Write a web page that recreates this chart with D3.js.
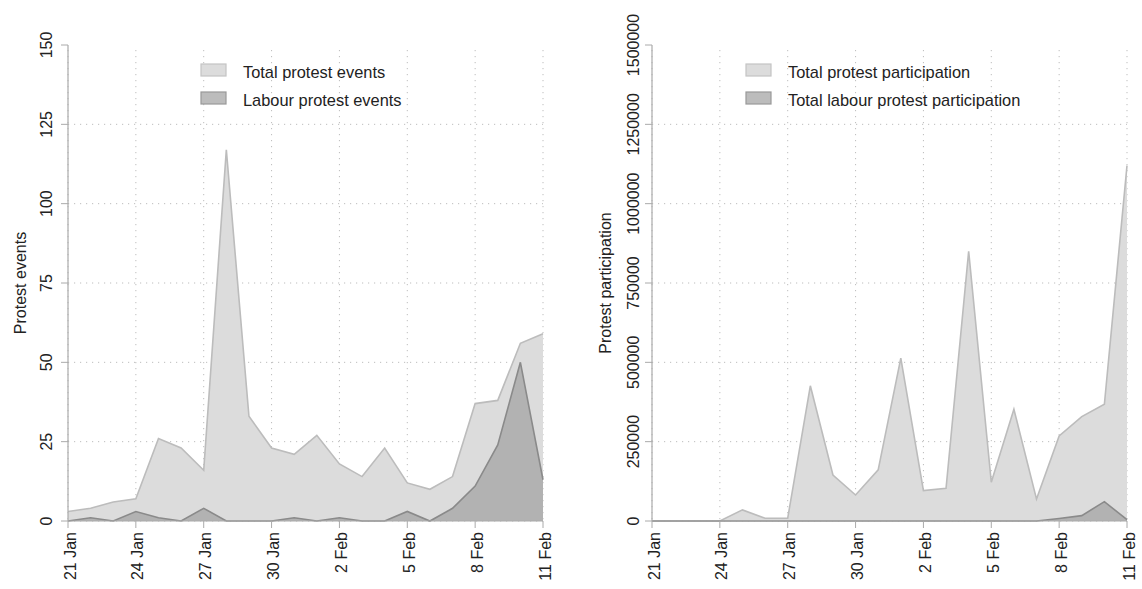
<!DOCTYPE html>
<html>
<head>
<meta charset="utf-8">
<script src="https://cdn.jsdelivr.net/npm/d3@7"></script>
<style>
  body { margin: 0; background: #fff; }
  svg text { font-family: "Liberation Sans", Arial, Helvetica, sans-serif; fill: #222; }
</style>
</head>
<body>
<svg id="chart" width="1142" height="589"></svg>
<script>
// days 21 Jan .. 11 Feb 2011
const days = d3.timeDay.range(new Date(2011, 0, 21), new Date(2011, 1, 12));
const tickDays = days.filter((d, i) => i % 3 === 0);

const totalEvents = [3, 4, 6, 7, 26, 23, 16, 117, 33, 23, 21, 27, 18, 14, 23, 12, 10, 14, 37, 38, 56, 59];
const labourEvents = [0, 1, 0, 3, 1, 0, 4, 0, 0, 0, 1, 0, 1, 0, 0, 3, 0, 4, 11, 24, 50, 13];

const totalPart = [0, 0, 0, 0, 35000, 8500, 9000, 426000, 145000, 82000, 161000, 513000, 96000, 103000,
  850000, 122000, 352000, 69000, 268000, 329000, 368000, 1120000];
const labourPart = [0, 0, 0, 0, 0, 0, 0, 0, 0, 0, 0, 0, 0, 0, 0, 0, 0, 0, 8000, 17000, 61000, 4000];

const eventTicks = [0, 25, 50, 75, 100, 125, 150];
const partTicks = [0, 250000, 500000, 750000, 1000000, 1250000, 1500000];

const legendEvents = ["Total protest events", "Labour protest events"];
const legendPart = ["Total protest participation", "Total labour protest participation"];

const fmtDay = d3.timeFormat("%-d %b");
const svg = d3.select("#chart");

function panel(opts) {
    const x = d3.scaleTime().domain([days[0], days[days.length - 1]]).range([opts.left, opts.left + 475]);
    const y = d3.scaleLinear().domain([0, opts.max]).range([521, 45]);
    const g = svg.append("g");

    // dotted grid
    g.selectAll(".hgrid").data(opts.yTicks.filter(v => v < opts.max))
        .enter().append("line")
        .attr("x1", x.range()[0]).attr("x2", x.range()[1])
        .attr("y1", d => y(d)).attr("y2", d => y(d))
        .style("stroke", "#bdbdbd").style("stroke-width", 1)
        .style("stroke-dasharray", "1.2,4.8");
    g.selectAll(".vgrid").data(tickDays)
        .enter().append("line")
        .attr("x1", d => x(d)).attr("x2", d => x(d))
        .attr("y1", 50).attr("y2", 521)
        .style("stroke", "#bdbdbd").style("stroke-width", 1)
        .style("stroke-dasharray", "1.2,4.8");

    const area = vals => d3.area()
        .x((d, i) => x(days[i]))
        .y0(y(0))
        .y1(d => y(d))(vals);
    const line = vals => d3.line()
        .x((d, i) => x(days[i]))
        .y(d => y(d))(vals);

    g.append("path").attr("d", area(opts.total))
        .style("fill", "#dcdcdc");
    g.append("path").attr("d", line(opts.total))
        .style("fill", "none").style("stroke", "#bcbcbc").style("stroke-width", 1.6);

    g.append("path").attr("d", area(opts.labour))
        .style("fill", "#777").style("fill-opacity", 0.42);
    g.append("path").attr("d", line(opts.labour))
        .style("fill", "none").style("stroke", "#8a8a8a").style("stroke-width", 1.6);

    // axes
    g.append("line").attr("x1", x.range()[0]).attr("x2", x.range()[0])
        .attr("y1", y.range()[0]).attr("y2", y.range()[1])
        .style("stroke", "#aaa").style("stroke-width", 1.2);
    g.append("line").attr("x1", x.range()[0]).attr("x2", x.range()[1])
        .attr("y1", y(0)).attr("y2", y(0))
        .style("stroke", "#aaa").style("stroke-width", 1.2);

    g.selectAll(".ytick").data(opts.yTicks).enter().append("line")
        .attr("x1", x.range()[0] - 7).attr("x2", x.range()[0])
        .attr("y1", d => y(d)).attr("y2", d => y(d))
        .style("stroke", "#aaa");
    g.selectAll(".ylab").data(opts.yTicks).enter().append("text")
        .attr("transform", d => `translate(${x.range()[0] - opts.labOff},${y(d)}) rotate(-90)`)
        .attr("text-anchor", "middle").attr("dy", "0.35em")
        .style("font-size", "16px")
        .text(d => d);

    g.selectAll(".xtick").data(tickDays).enter().append("line")
        .attr("x1", d => x(d)).attr("x2", d => x(d))
        .attr("y1", y(0)).attr("y2", y(0) + 7)
        .style("stroke", "#aaa");
    g.selectAll(".xlab").data(tickDays).enter().append("text")
        .attr("transform", d => `translate(${x(d) + 2},532) rotate(-90)`)
        .attr("text-anchor", "end").attr("dy", "0.35em")
        .style("font-size", "16px")
        .text(d => fmtDay(d));

    g.append("text")
        .attr("transform", `translate(${opts.titleX},283) rotate(-90)`)
        .attr("text-anchor", "middle").attr("dy", "0.35em")
        .style("font-size", "16px")
        .text(opts.title);

    // legend
    const leg = g.selectAll(".leg").data(opts.legend).enter().append("g")
        .attr("transform", (d, i) => `translate(${opts.legX},${64 + i * 28})`);
    leg.append("rect").attr("width", 25).attr("height", 12)
        .style("fill", (d, i) => i === 0 ? "#dcdcdc" : "#bcbcbc")
        .style("stroke", (d, i) => i === 0 ? "#c4c4c4" : "#999")
        .style("stroke-width", 1.2);
    leg.append("text").attr("x", 42).attr("y", 8).attr("dy", "0.35em")
        .style("font-size", "16.4px")
        .text(d => d);
}

panel({ left: 68, max: 150, yTicks: eventTicks, total: totalEvents, labour: labourEvents,
    labOff: 22, titleX: 20, title: "Protest events", legend: legendEvents, legX: 201 });
panel({ left: 652, max: 1500000, yTicks: partTicks, total: totalPart, labour: labourPart,
    labOff: 19, titleX: 605, title: "Protest participation", legend: legendPart, legX: 746 });
</script>
</body>
</html>
